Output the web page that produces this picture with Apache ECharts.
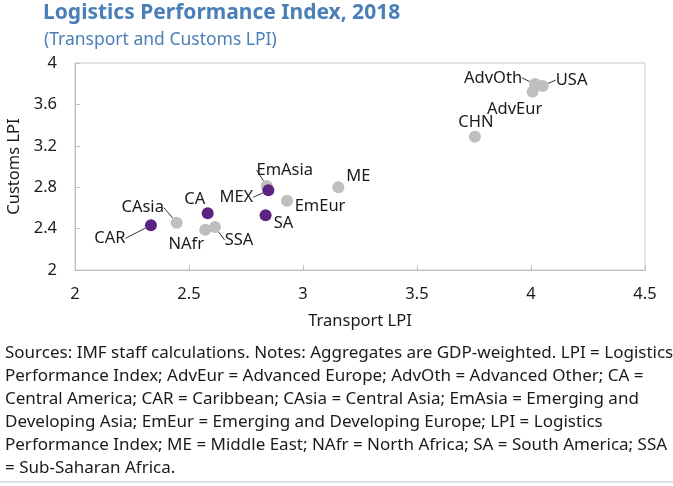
<!DOCTYPE html>
<html>
<head>
<meta charset="utf-8">
<script src="https://cdn.jsdelivr.net/npm/echarts@6/dist/echarts.min.js"></script>
<style>
html,body{margin:0;padding:0;background:#fff;}
#chart{width:673px;height:486px;}
</style>
</head>
<body>
<div id="chart"></div>
<script>
// ---- data ----
var greyNames     = ['CAsia','NAfr','SSA','EmAsia','EmEur','ME','CHN','AdvEur','AdvOth','USA'];
var greyTransport = [2.446, 2.571, 2.614, 2.841, 2.930, 3.155, 3.754, 4.007, 4.018, 4.051];
var greyCustoms   = [2.457, 2.389, 2.415, 2.812, 2.670, 2.800, 3.288, 3.723, 3.797, 3.778];

var purpleNames     = ['CAR','CA','SA','MEX'];
var purpleTransport = [2.333, 2.582, 2.836, 2.848];
var purpleCustoms   = [2.432, 2.548, 2.528, 2.770];

var xTicks = [2, 2.5, 3, 3.5, 4, 4.5];
var yTicks = [2, 2.4, 2.8, 3.2, 3.6, 4];

var titleText = 'Logistics Performance Index, 2018';
var subtitleText = '(Transport and Customs LPI)';
var notesLines = [
  'Sources: IMF staff calculations. Notes: Aggregates are GDP-weighted. LPI = Logistics',
  'Performance Index; AdvEur = Advanced Europe; AdvOth = Advanced Other; CA =',
  'Central America; CAR = Caribbean; CAsia = Central Asia; EmAsia = Emerging and',
  'Developing Asia; EmEur = Emerging and Developing Europe; LPI = Logistics',
  'Performance Index; ME = Middle East; NAfr = North Africa; SA = South America; SSA',
  '= Sub-Saharan Africa.'
];

// ---- label placement (offset of label centre from the dot, leader line on/off) ----
var labelPlace = {
  CAR:    {dx: -41, dy: 13, line: true},
  CAsia:  {dx: -34, dy: -15, line: true},
  CA:     {dx: -13, dy: -14, line: false},
  NAfr:   {dx: -19, dy: 15, line: false},
  SSA:    {dx: 24, dy: 13, line: true},
  SA:     {dx: 18, dy: 8, line: false},
  MEX:    {dx: -32, dy: 7, line: true},
  EmAsia: {dx: 18, dy: -16, line: true},
  EmEur:  {dx: 33, dy: 6, line: false},
  ME:     {dx: 20, dy: -11, line: false},
  CHN:    {dx: 1, dy: -14, line: false},
  AdvEur: {dx: -18, dy: 18, line: false},
  AdvOth: {dx: -42, dy: -6, line: true},
  USA:    {dx: 29, dy: -6, line: true}
};

var FONT = 'Noto Sans';

function buildData(names, xs, ys) {
  return names.map(function (n, i) {
    var p = labelPlace[n];
    return {
      name: n,
      value: [xs[i], ys[i]],
      labelLine: {show: p.line}
    };
  });
}

function layoutFn(names) {
  return function (params) {
    var p = labelPlace[names[params.dataIndex]];
    return {dx: p.dx, dy: p.dy};
  };
}

var commonLabel = {
  show: true,
  position: 'inside',
  formatter: '{b}',
  color: '#1a1a1a',
  fontSize: 16.5,
  fontFamily: FONT
};
var commonLine = {show: true, lineStyle: {color: '#333', width: 1}};

var chart = echarts.init(document.getElementById('chart'), null, {renderer: 'canvas'});
var option = {
  backgroundColor: '#fff',
  animation: false,
  textStyle: {fontFamily: FONT},
  title: [
    {text: titleText, left: 38, top: -2,
     textStyle: {fontFamily: FONT, fontSize: 21, fontWeight: 'bold', color: '#4a7fb8'}},
    {text: subtitleText, left: 39, top: 26,
     textStyle: {fontFamily: FONT, fontSize: 17.5, fontWeight: 'normal', color: '#4a7fb8'}}
  ],
  grid: {left: 75, right: 28, top: 63, bottom: 216, containLabel: false, outerBoundsMode: 'none',
         show: true, borderColor: '#c8c8c8', borderWidth: 1},
  xAxis: {
    type: 'value', min: 2, max: 4.5, interval: 0.5,
    name: 'Transport LPI', nameLocation: 'middle', nameGap: 43,
    nameTextStyle: {fontFamily: FONT, fontSize: 16.5, color: '#1a1a1a'},
    axisLine: {show: true, lineStyle: {color: '#bfbfbf'}},
    axisTick: {show: true, inside: true, length: 5, lineStyle: {color: '#bfbfbf'}},
    axisLabel: {fontFamily: FONT, fontSize: 16.5, color: '#1a1a1a', margin: 16,
      formatter: function (v) { return xTicks.indexOf(v) >= 0 ? String(v) : ''; }},
    splitLine: {show: false}
  },
  yAxis: {
    type: 'value', min: 2, max: 4, interval: 0.4,
    name: 'Customs LPI', nameLocation: 'middle', nameGap: 49,
    nameTextStyle: {fontFamily: FONT, fontSize: 16.5, color: '#1a1a1a'},
    axisLine: {show: true, lineStyle: {color: '#bfbfbf'}},
    axisTick: {show: true, inside: true, length: 5, lineStyle: {color: '#bfbfbf'}},
    axisLabel: {fontFamily: FONT, fontSize: 16.5, color: '#1a1a1a', margin: 18,
      formatter: function (v) {
        var r = Math.round(v * 10) / 10;
        return yTicks.indexOf(r) >= 0 ? String(r) : '';
      }},
    splitLine: {show: false}
  },
  series: [
    {
      name: 'Other regions', type: 'scatter', symbolSize: 12,
      itemStyle: {color: '#bfbfbf', opacity: 1},
      data: buildData(greyNames, greyTransport, greyCustoms),
      label: commonLabel, labelLine: commonLine,
      labelLayout: layoutFn(greyNames),
      z: 2
    },
    {
      name: 'Latin America', type: 'scatter', symbolSize: 12,
      itemStyle: {color: '#5b2483', opacity: 1},
      data: buildData(purpleNames, purpleTransport, purpleCustoms),
      label: commonLabel, labelLine: commonLine,
      labelLayout: layoutFn(purpleNames),
      z: 3
    }
  ],
  graphic: [
    {type: 'text', left: 5, top: 342,
     style: {text: notesLines.join('\n'), font: '17px "' + FONT + '"', fill: '#1a1a1a', lineHeight: 23}},
    {type: 'line', shape: {x1: 0, y1: 482, x2: 673, y2: 482}, style: {stroke: '#bfbfbf', lineWidth: 1}}
  ]
};
chart.setOption(option);
</script>
</body>
</html>
